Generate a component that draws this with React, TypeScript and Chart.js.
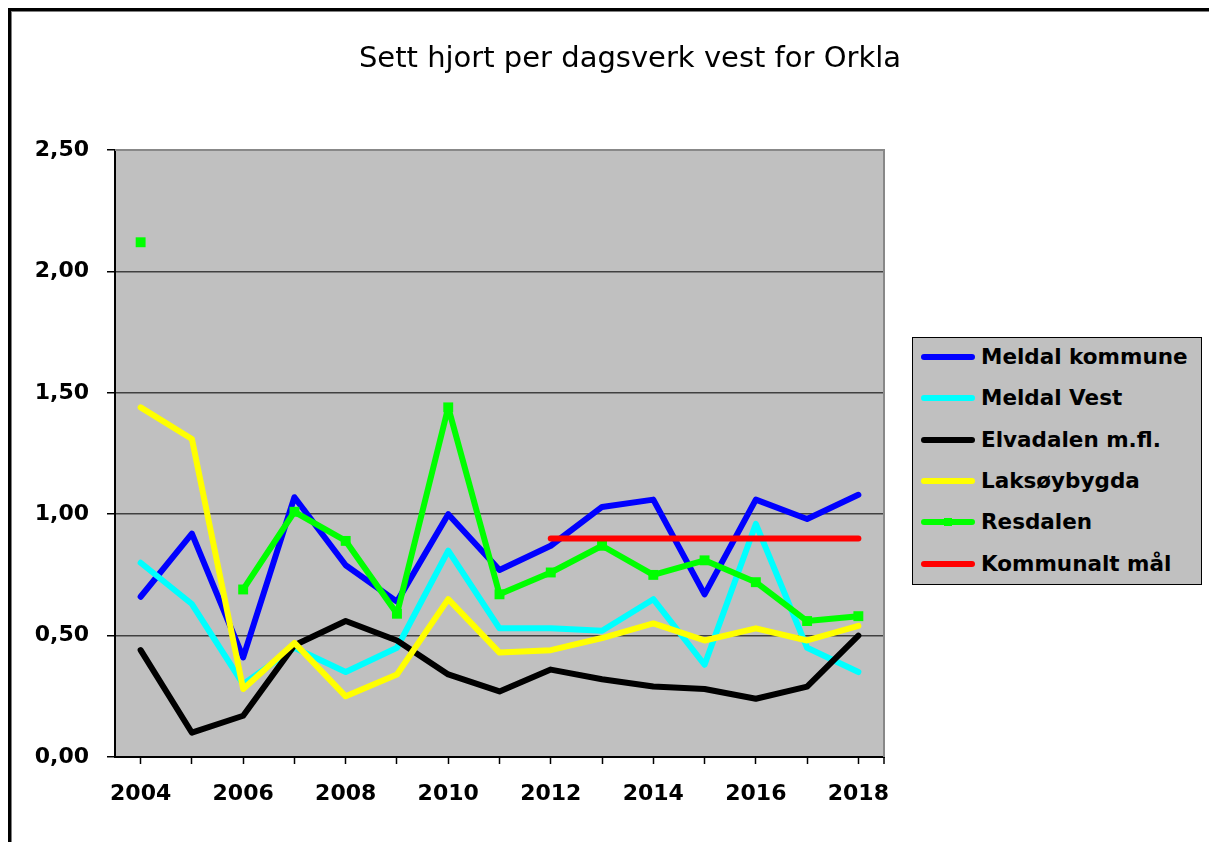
import { useEffect, useRef } from "react";
import { Chart, registerables } from "chart.js";

Chart.register(...registerables);

const TITLE = "Sett hjort per dagsverk vest for Orkla";

const years = ["2004", "2005", "2006", "2007", "2008", "2009", "2010", "2011", "2012", "2013", "2014", "2015", "2016", "2017", "2018"];

const seriesNames = ["Meldal kommune", "Meldal Vest", "Elvadalen m.fl.", "Laksøybygda", "Resdalen", "Kommunalt mål"];
const seriesColors = ["#0000FF", "#00FFFF", "#000000", "#FFFF00", "#00FF00", "#FF0000"];

const meldalKommune = [0.66, 0.92, 0.41, 1.07, 0.79, 0.64, 1.0, 0.77, 0.87, 1.03, 1.06, 0.67, 1.06, 0.98, 1.08];
const meldalVest = [0.8, 0.63, 0.3, 0.45, 0.35, 0.45, 0.85, 0.53, 0.53, 0.52, 0.65, 0.38, 0.96, 0.45, 0.35];
const elvadalen = [0.44, 0.1, 0.17, 0.46, 0.56, 0.48, 0.34, 0.27, 0.36, 0.32, 0.29, 0.28, 0.24, 0.29, 0.5];
const laksoybygda = [1.44, 1.31, 0.28, 0.47, 0.25, 0.34, 0.65, 0.43, 0.44, 0.49, 0.55, 0.48, 0.53, 0.48, 0.54];
const resdalen = [2.12, null, 0.69, 1.01, 0.89, 0.59, 1.44, 0.67, 0.76, 0.87, 0.75, 0.81, 0.72, 0.56, 0.58];
const kommunaltMaal = [null, null, null, null, null, null, null, null, 0.9, 0.9, 0.9, 0.9, 0.9, 0.9, 0.9];

const yMin = 0;
const yMax = 2.5;
const yStep = 0.5;

const seriesValues = [meldalKommune, meldalVest, elvadalen, laksoybygda, resdalen, kommunaltMaal];

const W = 1201;
const H = 834;

const plotBgPlugin = {
  id: "plotBg",
  beforeDraw(chart: any) {
    const { ctx, chartArea } = chart;
    const { left, top, right, bottom } = chartArea;
    ctx.save();
    ctx.fillStyle = "#C0C0C0";
    ctx.fillRect(left, top, right - left, bottom - top);
    ctx.restore();
  },
  beforeDatasetsDraw(chart: any) {
    const { ctx, chartArea } = chart;
    const { left, top, right, bottom } = chartArea;
    ctx.save();
    ctx.strokeStyle = "#888888";
    ctx.lineWidth = 2;
    ctx.beginPath();
    ctx.moveTo(left, top);
    ctx.lineTo(right, top);
    ctx.lineTo(right, bottom);
    ctx.stroke();
    // closing tick at the right end of the category axis
    ctx.strokeStyle = "#000";
    ctx.lineWidth = 1.5;
    ctx.beginPath();
    ctx.moveTo(right, bottom);
    ctx.lineTo(right, bottom + 7);
    ctx.stroke();
    ctx.restore();
  },
};

const titlePlugin = {
  id: "customTitle",
  afterDraw(chart: any) {
    const ctx = chart.ctx;
    ctx.save();
    ctx.font = '29px "DejaVu Sans"';
    ctx.fillStyle = "#000";
    ctx.textAlign = "center";
    ctx.textBaseline = "alphabetic";
    ctx.fillText(TITLE, 622, 59);
    ctx.restore();
  },
};

export default function App() {
  const canvasRef = useRef<HTMLCanvasElement | null>(null);

  useEffect(() => {
    if (!canvasRef.current) return;
    const orders = [5, 4, 3, 2, 1, 0];
    const datasets = seriesValues.map((vals, i) => {
      const isGreen = i === 4;
      return {
        label: seriesNames[i],
        data: vals,
        borderColor: seriesColors[i],
        backgroundColor: seriesColors[i],
        borderWidth: 6,
        borderCapStyle: "round" as const,
        borderJoinStyle: "round" as const,
        pointRadius: isGreen ? 7 : 0,
        pointStyle: "rect" as const,
        pointBorderWidth: 0,
        pointBackgroundColor: seriesColors[i],
        spanGaps: false,
        tension: 0,
        order: orders[i],
      };
    });

    const tickFont = { family: "DejaVu Sans", weight: "bold" as const, size: 22 };

    const chart = new Chart(canvasRef.current, {
      type: "line",
      data: { labels: years, datasets },
      plugins: [plotBgPlugin, titlePlugin],
      options: {
        responsive: true,
        maintainAspectRatio: false,
        animation: false,
        layout: { padding: { top: 142, right: W - 876, left: 0, bottom: 0 } },
        plugins: {
          legend: { display: false },
          title: { display: false },
          tooltip: { enabled: false },
        },
        scales: {
          x: {
            offset: true,
            afterFit: (s: any) => {
              s.height = H - 749;
            },
            grid: {
              drawOnChartArea: false,
              offset: false,
              tickLength: 7,
              tickColor: "#000",
              tickWidth: 1.5,
            },
            border: { color: "#000", width: 2 },
            ticks: {
              autoSkip: false,
              maxRotation: 0,
              minRotation: 0,
              padding: 17,
              color: "#000",
              font: tickFont,
              callback: (_v: any, i: number) => (i % 2 === 0 ? years[i] : ""),
            },
          },
          y: {
            min: yMin,
            max: yMax,
            afterFit: (s: any) => {
              s.width = 107;
            },
            grid: {
              color: (c: any) =>
                c.tick && (c.tick.value === yMax || c.tick.value === yMin) ? "rgba(0,0,0,0)" : "#404040",
              lineWidth: 1.5,
              tickColor: "#000",
              tickLength: 8,
              tickWidth: 1.5,
            },
            border: { color: "#000", width: 2 },
            ticks: {
              stepSize: yStep,
              padding: 18,
              color: "#000",
              font: tickFont,
              callback: (v: any) => Number(v).toFixed(2).replace(".", ","),
            },
          },
        },
      },
    });
    return () => chart.destroy();
  }, []);

  const legendTop = 329;
  const legendLeft = 904;
  const rowCenter0 = 20;
  const rowGap = 41.3;

  return (
    <div style={{ position: "relative", width: W, height: H, overflow: "hidden" }}>
      <div style={{ position: "absolute", left: 0, top: 0, width: W, height: 3, background: "#000" }} />
      <div style={{ position: "absolute", left: 3, top: 3, width: W - 3, height: 1, background: "#808080" }} />
      <div style={{ position: "absolute", left: 0, top: 0, width: 3, height: H, background: "#000" }} />
      <div style={{ position: "absolute", left: 3, top: 3, width: 1, height: H - 3, background: "#808080" }} />
      <div style={{ position: "absolute", left: 0, top: 0, width: W, height: H }}>
        <canvas ref={canvasRef} />
      </div>
      <div
        style={{
          position: "absolute",
          left: legendLeft,
          top: legendTop,
          width: 290,
          height: 248,
          boxSizing: "border-box",
          background: "#C0C0C0",
          border: "1px solid #000",
        }}
      >
        {seriesNames.map((name, i) => (
          <div
            key={name}
            style={{
              position: "absolute",
              left: 0,
              top: rowCenter0 + i * rowGap - 1 - 14,
              height: 28,
              width: 288,
            }}
          >
            <div
              style={{
                position: "absolute",
                left: 8,
                top: 11,
                width: 54,
                height: 6,
                borderRadius: 3,
                background: seriesColors[i],
              }}
            />
            {i === 4 ? (
              <div
                style={{
                  position: "absolute",
                  left: 31,
                  top: 10,
                  width: 8,
                  height: 8,
                  background: seriesColors[i],
                }}
              />
            ) : null}
            <div
              style={{
                position: "absolute",
                left: 68,
                top: 0,
                height: 28,
                lineHeight: "28px",
                fontFamily: '"DejaVu Sans"',
                fontWeight: "bold",
                fontSize: "21.5px",
                color: "#000",
                whiteSpace: "nowrap",
              }}
            >
              {name}
            </div>
          </div>
        ))}
      </div>
    </div>
  );
}
